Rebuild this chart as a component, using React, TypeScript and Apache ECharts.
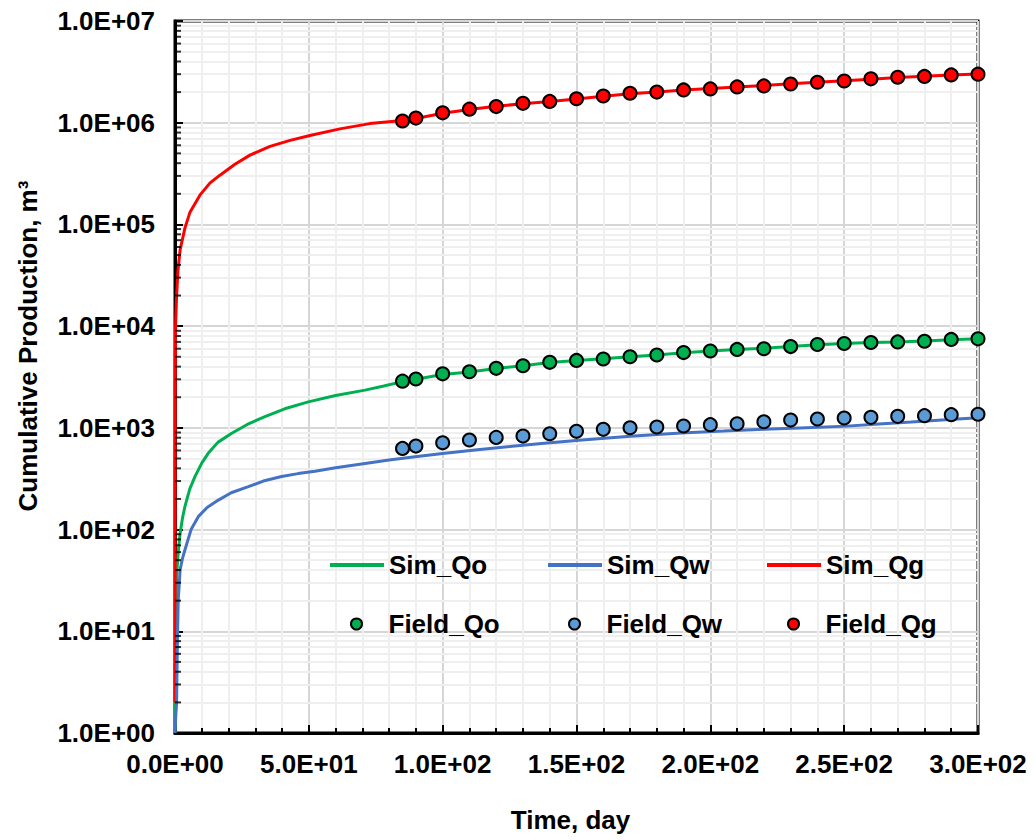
import React, { useEffect, useRef } from "react";
import * as echarts from "echarts";

// ---- Data ----
const simQoDays = [0, 0.3, 0.6, 1.2, 1.9, 2.8, 3.7, 5.5, 7.5, 10, 12.4, 16, 21.2, 27, 33.6, 41, 49.8, 60, 71, 78, 85, 90, 100, 110, 120, 130, 140, 150, 160, 170, 180, 190, 200, 210, 220, 230, 240, 250, 260, 270, 280, 290, 300];
const simQoValues = [1, 10, 35, 60, 91, 130, 168, 250, 333, 450, 562, 720, 884, 1080, 1290, 1540, 1800, 2080, 2350, 2580, 2850, 3000, 3350, 3550, 3830, 4080, 4400, 4600, 4780, 5000, 5200, 5480, 5700, 5880, 6050, 6300, 6550, 6750, 6900, 7000, 7150, 7350, 7500];

const simQwDays = [0, 0.3, 0.6, 0.9, 1.2, 1.9, 2.8, 3.7, 6, 8.7, 12, 16.2, 21, 27.4, 33, 39.8, 46, 52.3, 60, 71, 80, 89.7, 100, 113, 126, 138, 151, 170, 189, 205, 220, 236, 251, 263, 275, 288, 300];
const simQwValues = [1, 1.5, 2, 8, 20, 40, 52, 63, 100, 134, 165, 195, 230, 264, 300, 333, 355, 375, 405, 447, 482, 520, 560, 610, 660, 705, 755, 825, 890, 930, 970, 1005, 1040, 1090, 1140, 1200, 1260];

const simQgDays = [0, 0.08, 0.2, 0.6, 1.1, 1.9, 3.7, 5.6, 9.3, 13.1, 16.8, 22.4, 28, 35.5, 43, 50.4, 61.6, 72.8, 85, 90, 100, 110, 120, 130, 140, 150, 160, 170, 180, 190, 200, 210, 220, 230, 240, 250, 260, 270, 280, 290, 300];
const simQgValues = [2, 3000, 10000, 20000, 35000, 56000, 92000, 132000, 194000, 256000, 305000, 390000, 480000, 585000, 670000, 750000, 870000, 980000, 1050000, 1100000, 1240000, 1350000, 1450000, 1540000, 1620000, 1710000, 1820000, 1930000, 2000000, 2100000, 2170000, 2250000, 2320000, 2410000, 2500000, 2580000, 2680000, 2780000, 2860000, 2950000, 3020000];

const fieldDays = [85, 90, 100, 110, 120, 130, 140, 150, 160, 170, 180, 190, 200, 210, 220, 230, 240, 250, 260, 270, 280, 290, 300];
const fieldQo = [2880, 3020, 3400, 3560, 3850, 4080, 4410, 4600, 4750, 5000, 5200, 5500, 5700, 5900, 6000, 6300, 6600, 6750, 6900, 7000, 7100, 7400, 7500];
const fieldQw = [628, 662, 713, 759, 806, 830, 875, 925, 967, 1003, 1019, 1042, 1075, 1097, 1148, 1193, 1221, 1249, 1268, 1297, 1318, 1348, 1360];
const fieldQg = [1040000, 1110000, 1250000, 1360000, 1440000, 1550000, 1620000, 1720000, 1830000, 1950000, 2000000, 2100000, 2150000, 2250000, 2300000, 2400000, 2500000, 2570000, 2700000, 2800000, 2850000, 2950000, 3000000];

// minor log gridlines (2..9 x 10^k)
const minorMantissas = [2, 3, 4, 5, 6, 7, 8, 9];
const decades = [1, 10, 100, 1000, 10000, 100000, 1000000];

const FONT = "'Liberation Sans', Arial, sans-serif";

function zip(xs: number[], ys: number[]) {
  return xs.map((x, i) => [x, ys[i]]);
}

function sci(v: number): string {
  if (v === 0) return "0.0E+00";
  const e = Math.floor(Math.log10(v) + 1e-9);
  const m = v / Math.pow(10, e);
  const sign = e < 0 ? "-" : "+";
  return `${m.toFixed(1)}E${sign}${String(Math.abs(e)).padStart(2, "0")}`;
}

export default function App() {
  const ref = useRef<HTMLDivElement>(null);
  useEffect(() => {
    document.body.style.margin = "0";
    if (!ref.current) return;
    const chart = echarts.init(ref.current, undefined, { renderer: "svg" });

    const minorVals: number[] = [];
    decades.forEach((d) => minorMantissas.forEach((m) => minorVals.push(m * d)));

    const textStyle = { fontSize: 26, fontWeight: "bold", color: "#000", fontFamily: FONT };
    const simLegend = {
      itemWidth: 54,
      itemHeight: 4,
      icon: "rect",
      selectedMode: false,
      textStyle,
      padding: 0,
      z: 10,
    };
    const fieldLegend = {
      itemWidth: 54,
      itemHeight: 11,
      icon: "circle",
      selectedMode: false,
      textStyle,
      padding: 0,
      z: 10,
    };
    const lineCols = [330, 548, 767];
    const dotCols = [350, 568, 787];

    const option: any = {
      animation: false,
      backgroundColor: "#fff",
      grid: {
        left: 175,
        right: 58,
        top: 21,
        bottom: 107,
        show: true,
        borderColor: "#000",
        borderWidth: 3,
        backgroundColor: "transparent",
      },
      legend: [
        { ...simLegend, data: ["Sim_Qo"], left: lineCols[0], top: 552 },
        { ...simLegend, data: ["Sim_Qw"], left: lineCols[1], top: 552 },
        { ...simLegend, data: ["Sim_Qg"], left: lineCols[2], top: 552 },
        { ...fieldLegend, data: ["Field_Qo"], left: dotCols[0], top: 611 },
        { ...fieldLegend, data: ["Field_Qw"], left: dotCols[1], top: 611 },
        { ...fieldLegend, data: ["Field_Qg"], left: dotCols[2], top: 611 },
      ],
      xAxis: {
        type: "value",
        min: 0,
        max: 300,
        interval: 50,
        name: "Time, day",
        nameLocation: "middle",
        nameGap: 74,
        nameTextStyle: { ...textStyle, padding: [0, 12, 0, 0] },
        axisLine: { show: true, onZero: false, lineStyle: { color: "#000", width: 3 } },
        axisTick: { show: true, inside: true, length: 8, lineStyle: { color: "#000", width: 2 } },
        minorTick: { show: true, splitNumber: 5, length: 5, lineStyle: { color: "#000", width: 2 } },
        axisLabel: { ...textStyle, margin: 18, formatter: (v: number) => sci(v) },
        splitLine: { show: true, lineStyle: { color: "#d6d6d6", width: 2 } },
        minorSplitLine: { show: true, lineStyle: { color: "#efefef", width: 2 } },
      },
      yAxis: {
        type: "log",
        logBase: 10,
        min: 1,
        max: 10000000,
        interval: 1,
        name: "Cumulative Production, m³",
        nameLocation: "middle",
        nameGap: 134,
        nameTextStyle: { ...textStyle, padding: [0, 0, 0, 62] },
        axisLine: { show: true, lineStyle: { color: "#000", width: 3 } },
        axisTick: { show: true, inside: true, length: 8, lineStyle: { color: "#000", width: 2 } },
        axisLabel: { ...textStyle, margin: 20, formatter: (v: number) => sci(v) },
        splitLine: { show: true, lineStyle: { color: "#d6d6d6", width: 2 } },
      },
      series: [
        {
          name: "minorGrid",
          type: "line",
          data: [],
          z: 0,
          silent: true,
          markLine: {
            z: 0,
            silent: true,
            symbol: ["none", "none"],
            label: { show: false },
            lineStyle: { color: "#efefef", width: 2, type: "solid" },
            emphasis: { disabled: true },
            data: minorVals.map((v) => ({ yAxis: v })),
          },
        },
        {
          name: "Sim_Qo",
          type: "line",
          data: zip(simQoDays, simQoValues),
          showSymbol: false,
          symbol: "none",
          lineStyle: { color: "#00b050", width: 3 },
          itemStyle: { color: "#00b050" },
          z: 3,
        },
        {
          name: "Sim_Qg",
          type: "line",
          data: zip(simQgDays, simQgValues),
          showSymbol: false,
          symbol: "none",
          lineStyle: { color: "#ff0000", width: 3 },
          itemStyle: { color: "#ff0000" },
          z: 3,
        },
        {
          name: "Sim_Qw",
          type: "line",
          data: zip(simQwDays, simQwValues),
          showSymbol: false,
          symbol: "none",
          lineStyle: { color: "#4472c4", width: 3 },
          itemStyle: { color: "#4472c4" },
          z: 3,
        },
        {
          name: "Field_Qo",
          type: "scatter",
          data: zip(fieldDays, fieldQo),
          symbol: "circle",
          symbolSize: 13,
          itemStyle: { color: "#00b050", borderColor: "#000", borderWidth: 2, opacity: 1 },
          z: 4,
        },
        {
          name: "Field_Qw",
          type: "scatter",
          data: zip(fieldDays, fieldQw),
          symbol: "circle",
          symbolSize: 13,
          itemStyle: { color: "#5b9bd5", borderColor: "#000", borderWidth: 2, opacity: 1 },
          z: 4,
        },
        {
          name: "Field_Qg",
          type: "scatter",
          data: zip(fieldDays, fieldQg),
          symbol: "circle",
          symbolSize: 13,
          itemStyle: { color: "#ff0000", borderColor: "#000", borderWidth: 2, opacity: 1 },
          z: 4,
        },
        {
          name: "minorTicks",
          type: "scatter",
          data: minorVals.map((v) => [0, v]),
          symbol: "rect",
          symbolSize: [6, 2],
          symbolOffset: [3, 0],
          itemStyle: { color: "#000" },
          silent: true,
          z: 6,
        },
      ],
    };
    chart.setOption(option);
    return () => chart.dispose();
  }, []);
  return <div ref={ref} style={{ width: 1036, height: 840 }} />;
}
